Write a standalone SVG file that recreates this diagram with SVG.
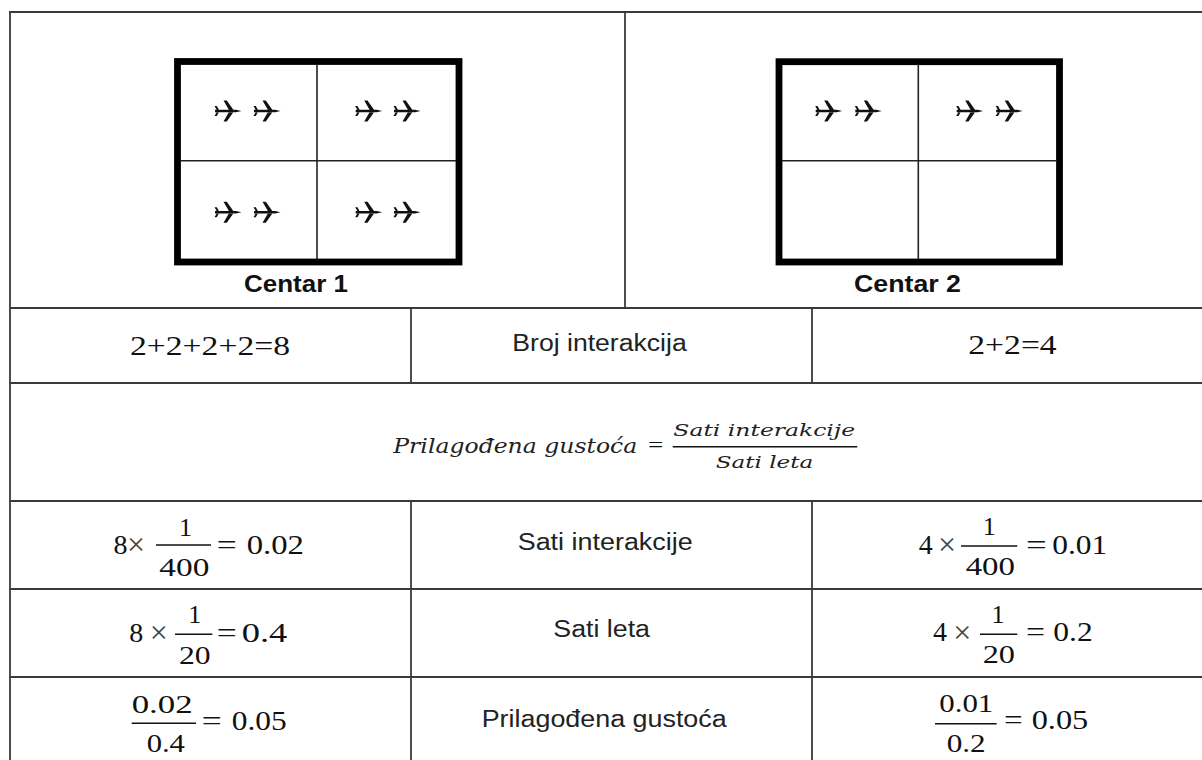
<svg xmlns="http://www.w3.org/2000/svg" xmlns:xlink="http://www.w3.org/1999/xlink" width="1202" height="760" viewBox="0 0 1202 760">
<style>
.grid{stroke:#3a3a3a;stroke-width:1.8;fill:none}
.box{stroke:#000;stroke-width:6.8;fill:none}
.cell{stroke:#222;stroke-width:1.6;fill:none}
.fl{stroke:#111;stroke-width:1.4}
.lbl{font-family:"Liberation Sans",Arial,sans-serif;font-size:23px;fill:#222}
.ctr{font-family:"Liberation Sans",Arial,sans-serif;font-weight:bold;font-size:23px;fill:#111}
.num{font-family:"Liberation Serif","Times New Roman",serif;font-size:28px;fill:#111;text-anchor:middle}
.fn{font-size:26px}
.op{fill:#444;font-size:32px}
.mi{font-family:"DejaVu Serif",serif;font-style:italic;font-size:21px;fill:#222;text-anchor:middle}
.ms{font-size:17px}
</style>
<defs>
<g id="plane">
<path d="M-13,-1.3 L8,-1.3 L13.5,0 L8,1.3 L-13,1.3 Z M-4.5,-10.5 L-1.2,-10.5 L5.5,-1 L1,-1 Z M-4.5,10.5 L-1.2,10.5 L5.5,1 L1,1 Z M-13.5,-5 L-11.2,-5 L-9,-1 L-11.2,-1 Z M-13.5,5 L-11.2,5 L-9,1 L-11.2,1 Z" fill="#111"/>
</g>
</defs>
<rect x="0" y="0" width="1202" height="760" fill="#fff"/>

<g id="table-lines">
<line class="grid" x1="9" y1="12" x2="1202" y2="12"/>
<line class="grid" x1="10" y1="12" x2="10" y2="760"/>
<line class="grid" x1="10" y1="308" x2="1202" y2="308"/>
<line class="grid" x1="10" y1="383" x2="1202" y2="383"/>
<line class="grid" x1="10" y1="501" x2="1202" y2="501"/>
<line class="grid" x1="10" y1="589" x2="1202" y2="589"/>
<line class="grid" x1="10" y1="677" x2="1202" y2="677"/>
<line class="grid" x1="625" y1="12" x2="625" y2="308"/>
<line class="grid" x1="411" y1="308" x2="411" y2="383"/>
<line class="grid" x1="812" y1="308" x2="812" y2="383"/>
<line class="grid" x1="411" y1="501" x2="411" y2="760"/>
<line class="grid" x1="812" y1="501" x2="812" y2="760"/>
</g>

<g id="centar1">
<rect class="box" x="177.5" y="61.5" width="281.5" height="200.5"/>
<line class="cell" x1="317" y1="64" x2="317" y2="259"/>
<line class="cell" x1="180" y1="160.7" x2="456" y2="160.7"/>
<use xlink:href="#plane" x="228" y="111"/>
<use xlink:href="#plane" x="267" y="111"/>
<use xlink:href="#plane" x="368.7" y="111"/>
<use xlink:href="#plane" x="407" y="111"/>
<use xlink:href="#plane" x="228" y="212.3"/>
<use xlink:href="#plane" x="267" y="212.3"/>
<use xlink:href="#plane" x="368.7" y="212.3"/>
<use xlink:href="#plane" x="407" y="212.3"/>
<text class="ctr" x="244" y="292" textLength="104" lengthAdjust="spacingAndGlyphs">Centar 1</text>
</g>

<g id="centar2">
<rect class="box" x="779" y="61.7" width="280.5" height="200.3"/>
<line class="cell" x1="918.3" y1="64" x2="918.3" y2="259"/>
<line class="cell" x1="782" y1="160.7" x2="1057" y2="160.7"/>
<use xlink:href="#plane" x="828.7" y="111"/>
<use xlink:href="#plane" x="868.3" y="111"/>
<use xlink:href="#plane" x="969.7" y="111"/>
<use xlink:href="#plane" x="1009.2" y="111"/>
<text class="ctr" x="854" y="291.5" textLength="107" lengthAdjust="spacingAndGlyphs">Centar 2</text>
</g>

<g id="row-interakcije-broj">
<text class="num" x="210" y="355" textLength="160" lengthAdjust="spacingAndGlyphs">2+2+2+2=8</text>
<text class="lbl" x="512.3" y="350.7" textLength="174.4" lengthAdjust="spacingAndGlyphs">Broj interakcija</text>
<text class="num" x="1012.5" y="354.3" textLength="88.4" lengthAdjust="spacingAndGlyphs">2+2=4</text>
</g>

<g id="row-formula">
<text class="mi" x="515.3" y="452.5" textLength="244" lengthAdjust="spacingAndGlyphs">Prilagođena gustoća</text>
<text class="num" x="655.7" y="452.2" style="font-size:22px" textLength="15.3" lengthAdjust="spacingAndGlyphs">=</text>
<line class="fl" x1="672.7" y1="446.7" x2="857.3" y2="446.7"/>
<text class="mi ms" x="764.2" y="436" textLength="181.7" lengthAdjust="spacingAndGlyphs">Sati interakcije</text>
<text class="mi ms" x="764.5" y="468.3" textLength="97.6" lengthAdjust="spacingAndGlyphs">Sati leta</text>
</g>

<g id="row-sati-interakcije">
<text class="num" x="120.5" y="554">8</text>
<text class="num op" x="136" y="555.3">×</text>
<line class="fl" x1="156" y1="545" x2="211" y2="545"/>
<text class="num fn" x="185.5" y="536">1</text>
<text class="num fn" x="184.3" y="576" textLength="50" lengthAdjust="spacingAndGlyphs">400</text>
<text class="num" x="226.7" y="554" textLength="20" lengthAdjust="spacingAndGlyphs">=</text>
<text class="num" x="275.3" y="554" textLength="57.3" lengthAdjust="spacingAndGlyphs">0.02</text>
<text class="lbl" x="517.7" y="550" textLength="175" lengthAdjust="spacingAndGlyphs">Sati interakcije</text>
<text class="num" x="925.8" y="554">4</text>
<text class="num op" x="947" y="555.3">×</text>
<line class="fl" x1="961" y1="546" x2="1017.3" y2="546"/>
<text class="num fn" x="989.2" y="535">1</text>
<text class="num fn" x="990.3" y="575" textLength="49.3" lengthAdjust="spacingAndGlyphs">400</text>
<text class="num" x="1036.3" y="554" textLength="20.7" lengthAdjust="spacingAndGlyphs">=</text>
<text class="num" x="1079.8" y="554" textLength="55" lengthAdjust="spacingAndGlyphs">0.01</text>
</g>

<g id="row-sati-leta">
<text class="num" x="136.3" y="641.7">8</text>
<text class="num op" x="158.7" y="643.3">×</text>
<line class="fl" x1="175" y1="634.3" x2="212.3" y2="634.3"/>
<text class="num fn" x="194.7" y="623.3">1</text>
<text class="num fn" x="194.8" y="664" textLength="31.7" lengthAdjust="spacingAndGlyphs">20</text>
<text class="num" x="226.7" y="641.7" textLength="20" lengthAdjust="spacingAndGlyphs">=</text>
<text class="num" x="264.5" y="641.7" textLength="45.6" lengthAdjust="spacingAndGlyphs">0.4</text>
<text class="lbl" x="553.3" y="637.3" textLength="96.7" lengthAdjust="spacingAndGlyphs">Sati leta</text>
<text class="num" x="940" y="641">4</text>
<text class="num op" x="962.2" y="642.6">×</text>
<line class="fl" x1="980" y1="634.3" x2="1017.3" y2="634.3"/>
<text class="num fn" x="998" y="623.3">1</text>
<text class="num fn" x="998.8" y="663.3" textLength="32.3" lengthAdjust="spacingAndGlyphs">20</text>
<text class="num" x="1035.5" y="641" textLength="19" lengthAdjust="spacingAndGlyphs">=</text>
<text class="num" x="1073" y="641" textLength="39.4" lengthAdjust="spacingAndGlyphs">0.2</text>
</g>

<g id="row-prilagodena-gustoca">
<text class="num fn" x="162.2" y="712.7" textLength="61" lengthAdjust="spacingAndGlyphs">0.02</text>
<line class="fl" x1="131.7" y1="723.3" x2="196" y2="723.3"/>
<text class="num fn" x="165.8" y="751.7" textLength="38.3" lengthAdjust="spacingAndGlyphs">0.4</text>
<text class="num" x="211.7" y="730" textLength="20" lengthAdjust="spacingAndGlyphs">=</text>
<text class="num" x="259.2" y="730" textLength="55" lengthAdjust="spacingAndGlyphs">0.05</text>
<text class="lbl" x="481.7" y="726.7" textLength="245" lengthAdjust="spacingAndGlyphs">Prilagođena gustoća</text>
<text class="num fn" x="966.3" y="712.3" textLength="54" lengthAdjust="spacingAndGlyphs">0.01</text>
<line class="fl" x1="935" y1="723.7" x2="996.7" y2="723.7"/>
<text class="num fn" x="966.2" y="751.7" textLength="39" lengthAdjust="spacingAndGlyphs">0.2</text>
<text class="num" x="1013.3" y="729" textLength="18.7" lengthAdjust="spacingAndGlyphs">=</text>
<text class="num" x="1060" y="729" textLength="56.6" lengthAdjust="spacingAndGlyphs">0.05</text>
</g>
</svg>
